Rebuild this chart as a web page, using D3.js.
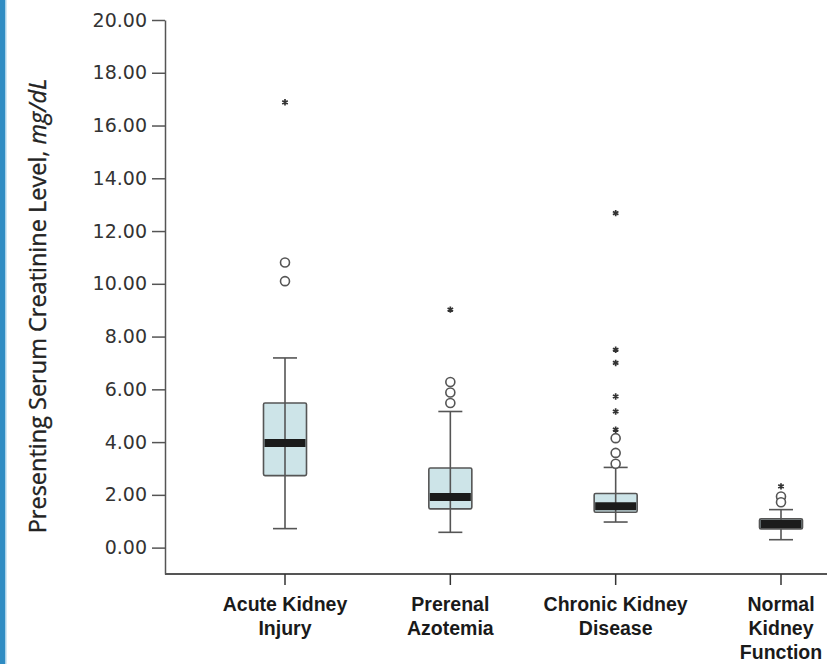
<!DOCTYPE html>
<html>
<head>
<meta charset="utf-8">
<script src="https://cdn.jsdelivr.net/npm/d3@7"></script>
<style>
  body { margin: 0; background: #fff; }
  svg { display: block; }
</style>
</head>
<body>
<div class="chart"></div>
<script>
const categories = ["Acute Kidney Injury", "Prerenal Azotemia", "Chronic Kidney Disease", "Normal Kidney Function"];
const categoryLines = [["Acute Kidney", "Injury"], ["Prerenal", "Azotemia"], ["Chronic Kidney", "Disease"], ["Normal", "Kidney", "Function"]];
const whiskerLow = [0.72, 0.58, 0.97, 0.30];
const q1 = [2.73, 1.47, 1.34, 0.71];
const median = [3.97, 1.92, 1.57, 0.90];
const q3 = [5.48, 3.02, 2.05, 1.09];
const whiskerHigh = [7.19, 5.16, 3.04, 1.44];
const outliers = [[10.81, 10.10], [6.28, 5.88, 5.48], [4.15, 3.59, 3.18], [1.94, 1.72]];
const extremes = [[16.88], [9.02], [12.68, 7.50, 7.00, 5.73, 5.16, 4.47], [2.32]];
const yTicks = [0, 2, 4, 6, 8, 10, 12, 14, 16, 18, 20];

const width = 827, height = 664;
const margin = { top: 20, left: 165, bottom: 90 };

const svg = d3.select(".chart").append("svg")
    .attr("width", width)
    .attr("height", height);

// blue page edge on the left
svg.append("rect").attr("x", 0).attr("y", 0).attr("width", 5).attr("height", height).attr("fill", "#2f8cc3");
svg.append("rect").attr("x", 5).attr("y", 0).attr("width", 1.5).attr("height", height).attr("fill", "#a9d2ea");

const y = d3.scaleLinear()
    .domain([-1, 20])
    .range([height - margin.bottom, margin.top]);

const x = d3.scalePoint()
    .domain(categories)
    .range([285, 781]);

const boxW = 43, capW = 24;
const axisColor = "#555";

// y axis
const yAxis = svg.append("g")
    .attr("transform", `translate(${margin.left},0)`)
    .call(d3.axisLeft(y).tickValues(yTicks).tickFormat(d3.format(".2f")).tickSize(13).tickPadding(5).tickSizeOuter(0));
yAxis.select(".domain").attr("stroke", axisColor).attr("stroke-width", 1.5);
yAxis.selectAll(".tick line").attr("stroke", axisColor).attr("stroke-width", 1.5);
yAxis.selectAll(".tick text")
    .attr("fill", "#333")
    .style("font-family", "'DejaVu Sans', sans-serif")
    .style("font-size", "19px");

// x axis
svg.append("line")
    .attr("x1", margin.left).attr("x2", width)
    .attr("y1", y(-1)).attr("y2", y(-1))
    .attr("stroke", axisColor).attr("stroke-width", 2);

const groups = svg.selectAll("g.box")
    .data(categories)
    .enter()
    .append("g")
    .attr("class", "box")
    .attr("transform", d => `translate(${x(d)},0)`);

groups.append("line")
    .attr("y1", y(-1)).attr("y2", y(-1) + 11)
    .attr("stroke", "#333").attr("stroke-width", 1.5);

groups.each(function(d, i) {
    const g = d3.select(this);
    const lines = categoryLines[i];
    const t = g.append("text")
        .attr("text-anchor", "middle")
        .attr("y", y(-1) + 37)
        .attr("fill", "#1a1a1a")
        .style("font-family", "'Liberation Sans Narrow', 'Arial Narrow', sans-serif")
        .style("font-weight", "bold")
        .style("font-size", "19.5px");
    lines.forEach((s, k) => {
        t.append("tspan").attr("x", 0).attr("dy", k === 0 ? 0 : 24).text(s);
    });

    // whiskers
    g.append("line")
        .attr("y1", y(whiskerLow[i])).attr("y2", y(whiskerHigh[i]))
        .attr("stroke", axisColor).attr("stroke-width", 1.6);
    [whiskerLow[i], whiskerHigh[i]].forEach(v => {
        g.append("line")
            .attr("x1", -capW / 2).attr("x2", capW / 2)
            .attr("y1", y(v)).attr("y2", y(v))
            .attr("stroke", axisColor).attr("stroke-width", 1.6);
    });

    // box
    g.append("rect")
        .attr("x", -boxW / 2).attr("width", boxW)
        .attr("y", y(q3[i])).attr("height", y(q1[i]) - y(q3[i]))
        .attr("rx", 1.5)
        .attr("fill", "#cde4e8")
        .attr("stroke", axisColor).attr("stroke-width", 1.6);
    g.append("line")
        .attr("y1", y(q1[i])).attr("y2", y(q3[i]))
        .attr("stroke", axisColor).attr("stroke-width", 1.6);
    g.append("line")
        .attr("x1", -boxW / 2 + 1).attr("x2", boxW / 2 - 1)
        .attr("y1", y(median[i])).attr("y2", y(median[i]))
        .attr("stroke", "#1b1b1b").attr("stroke-width", 8);

    // outliers
    g.selectAll("circle.out")
        .data(outliers[i])
        .enter().append("circle")
        .attr("class", "out")
        .attr("cy", v => y(v))
        .attr("r", 4.5)
        .attr("fill", "#fff")
        .attr("stroke", axisColor).attr("stroke-width", 1.6);

    g.selectAll("path.ext")
        .data(extremes[i])
        .enter().append("path")
        .attr("class", "ext")
        .attr("transform", v => `translate(0,${y(v)})`)
        .attr("d", d3.symbol(d3.symbolAsterisk, 28))
        .attr("fill", "none")
        .attr("stroke", "#333").attr("stroke-width", 1.7);
});

// y axis title
const yTitle = svg.append("text")
    .attr("transform", `translate(46,${(y(-1) + margin.top) / 2 + 9}) rotate(-90)`)
    .attr("text-anchor", "middle")
    .attr("fill", "#222")
    .attr("stroke", "#222")
    .attr("stroke-width", 0.35)
    .style("font-family", "'Open Sans', sans-serif")
    .style("font-size", "23.5px");
yTitle.append("tspan").text("Presenting Serum Creatinine Level, ");
yTitle.append("tspan").style("font-style", "italic").text("mg/dL");
</script>
</body>
</html>
